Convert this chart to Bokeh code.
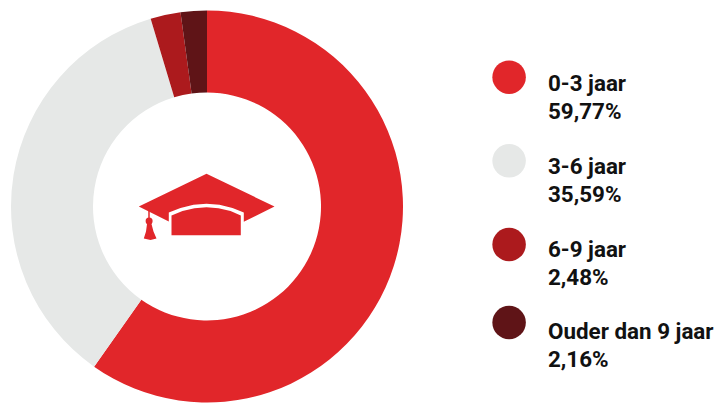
from math import pi
from bokeh.plotting import figure
from bokeh.models import Range1d
from bokeh.core.properties import value
from bokeh.embed import file_html
from bokeh.resources import INLINE

categories = ["0-3 jaar", "3-6 jaar", "6-9 jaar", "Ouder dan 9 jaar"]
shares = [59.77, 35.59, 2.48, 2.16]
share_labels = ["59,77%", "35,59%", "2,48%", "2,16%"]
colors = ["#e1262a", "#e6e8e7", "#ac1a1d", "#5f1417"]

W, H = 716, 403
def Y(py):
    return 403 - py

p = figure(width=W, height=H, output_backend="svg", toolbar_location=None,
           x_range=Range1d(0, W), y_range=Range1d(0, H),
           min_border=0, outline_line_color=None, background_fill_color="white")
p.axis.visible = False
p.grid.visible = False

# Donut
cx, cy, r_out, r_in = 206.5, Y(206), 196, 114
total = sum(shares)
cum = 0
for v, c in zip(shares, colors):
    start = pi / 2 - 2 * pi * cum / total
    end = pi / 2 - 2 * pi * (cum + v) / total
    p.annular_wedge(x=cx, y=cy, inner_radius=r_in, outer_radius=r_out,
                    start_angle=end, end_angle=start, direction="anticlock",
                    fill_color=c, line_color=None)
    cum += v

# Legend
dot_y = [76.7, 160.3, 244, 322]
label_mid = [82, 165, 248, 330]
pct_mid = [110, 193, 276, 358]
p.scatter(x=[508.6] * 4, y=[Y(v) for v in dot_y], size=33.5, marker="circle",
          fill_color=colors, line_color=None)
font = dict(text_font=value("Roboto"), text_font_style="bold", text_font_size="22.4px",
            text_color="#111111", text_baseline="middle", text_align="left")
p.text(x=[547.5] * 4, y=[Y(v) for v in label_mid], text=categories, **font)
p.text(x=[547.5] * 4, y=[Y(v) for v in pct_mid], text=share_labels, **font)

# Graduation cap icon
RED = colors[0]
def poly(pts, color=RED):
    p.patch([a for a, _ in pts], [Y(b) for _, b in pts], fill_color=color, line_color=None)

poly([(206, 173.3), (274, 206), (243.3, 221.3), (243.3, 212), (232, 207.5), (219, 204.3),
      (206, 203.3), (193, 204.3), (180, 207.5), (168.3, 212), (168.3, 221), (138.3, 206)])
poly([(171, 215), (182, 210.5), (194, 207.7), (206, 206.7), (218, 207.7), (230, 210.5),
      (240.3, 215), (240.3, 234.7), (171, 234.7)])
p.line([148.5, 148.5], [Y(207), Y(219)], line_color=RED, line_width=1.5)
p.scatter([148.6], [Y(220.5)], size=7, marker="circle", fill_color=RED, line_color=None)
poly([(146.7, 222), (150.6, 222), (153, 231), (156, 238), (150, 239.5), (143.3, 238), (145.5, 231)])

open("out.html", "w").write(file_html(p, INLINE))
